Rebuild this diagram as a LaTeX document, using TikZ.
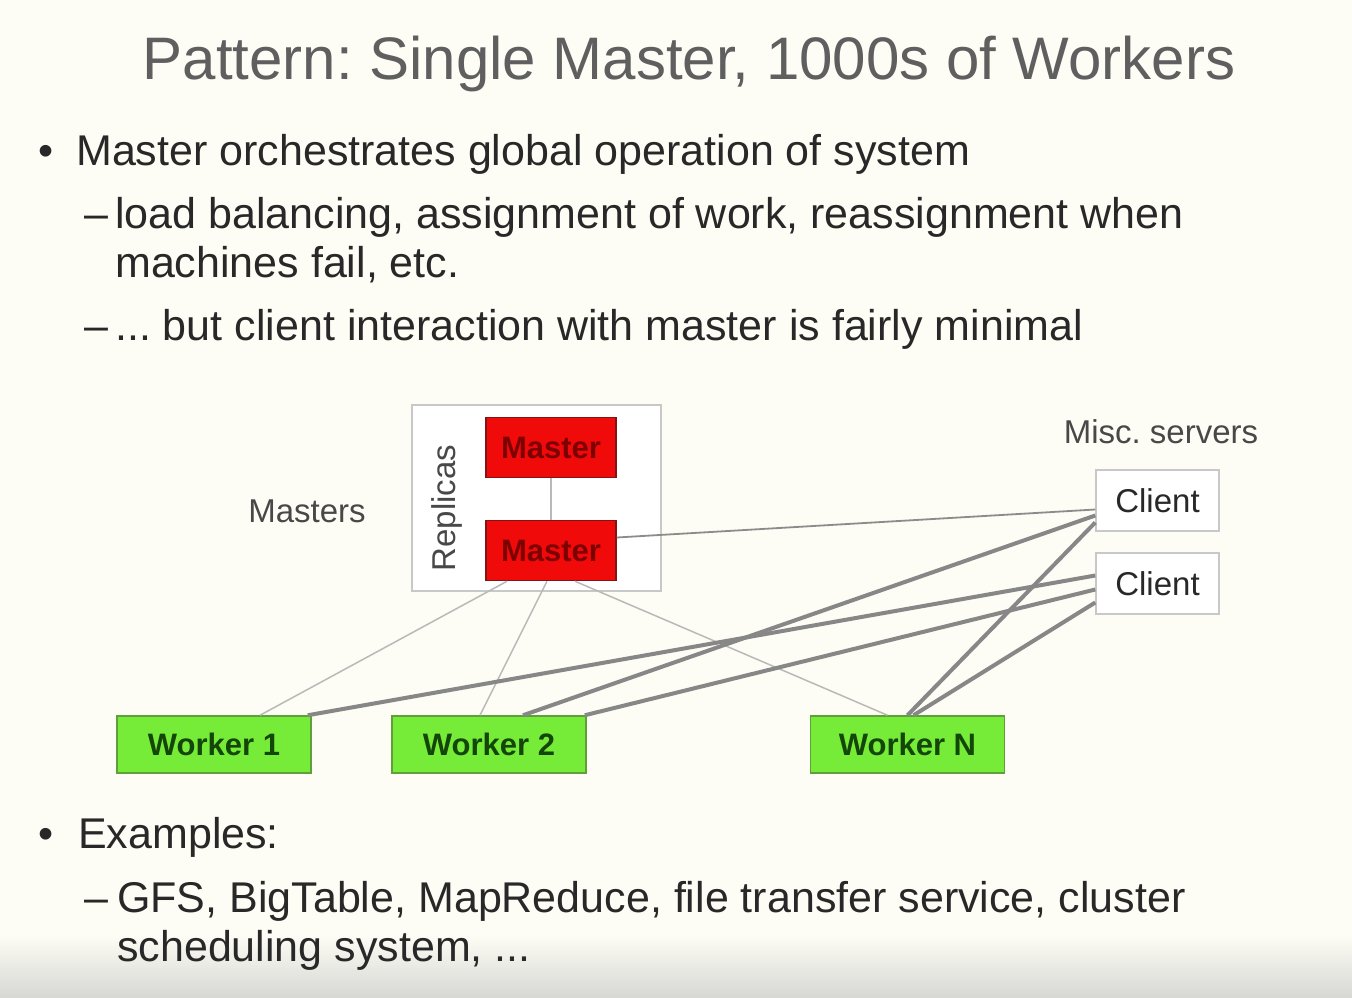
\documentclass[tikz,border=0pt]{standalone}
\usepackage{fontspec}
\setmainfont{Liberation Sans}
\usetikzlibrary{calc}
\frenchspacing
\definecolor{bg}{RGB}{253,253,245}
\definecolor{bgbot}{RGB}{215,215,212}
\definecolor{titlegray}{RGB}{95,95,95}
\definecolor{bodytext}{RGB}{40,40,40}
\definecolor{mred}{RGB}{240,10,10}
\definecolor{mredborder}{RGB}{130,20,20}
\definecolor{mredtext}{RGB}{125,0,0}
\definecolor{wgreen}{RGB}{118,236,56}
\definecolor{wgreenborder}{RGB}{95,160,60}
\definecolor{wgreentext}{RGB}{20,70,10}
\definecolor{boxborder}{RGB}{200,200,200}
\definecolor{thinline}{RGB}{185,185,185}
\definecolor{midline}{RGB}{140,140,140}
\definecolor{thickline}{RGB}{135,135,135}
\tikzset{
  bodyfont/.style={font=\fontsize{43}{50}\selectfont, text=bodytext, inner sep=0pt, anchor=base west},
  labelfont/.style={font=\fontsize{33}{38}\selectfont, text=bodytext!85, inner sep=0pt},
  masterbox/.style={draw=mredborder, line width=1.5pt, fill=mred, minimum width=130pt, minimum height=60pt, inner sep=0pt, font=\bfseries\fontsize{31}{36}\selectfont, text=mredtext},
  workerbox/.style={draw=wgreenborder, line width=1.5pt, fill=wgreen, minimum width=194pt, minimum height=57pt, inner sep=0pt, font=\bfseries\fontsize{31}{36}\selectfont, text=wgreentext},
  clientbox/.style={draw=boxborder, line width=1.5pt, fill=white, minimum width=123pt, minimum height=61pt, inner sep=0pt, font=\fontsize{33}{38}\selectfont, text=bodytext},
  thinconn/.style={draw=thinline, line width=1.5pt},
  midconn/.style={draw=midline, line width=1.8pt},
  thickconn/.style={draw=thickline, line width=4pt}
}
\begin{document}
\begin{tikzpicture}[x=1pt,y=-1pt]
\useasboundingbox (0,0) rectangle (1352,998);
\fill[bg] (0,0) rectangle (1352,998);
\shade[top color=bg, bottom color=bgbot] (0,935) rectangle (1352,998);

% title
\node[font=\fontsize{60}{66}\selectfont, text=titlegray, inner sep=0pt, anchor=base] (title) at (689,80) {Pattern: Single Master, 1000s of Workers};

% bullets
\node[bodyfont] (b1dot) at (38,165) {•};
\node[bodyfont] (b1) at (76,165) {Master orchestrates global operation of system};
\node[bodyfont] (s1dash) at (84,228) {–};
\node[bodyfont] (s1) at (115,228) {load balancing, assignment of work, reassignment when};
\node[bodyfont] (s1b) at (115,277) {machines fail, etc.};
\node[bodyfont] (s2dash) at (84,340) {–};
\node[bodyfont] (s2) at (115,340) {... but client interaction with master is fairly minimal};
\node[bodyfont] (b2dot) at (38,848) {•};
\node[bodyfont] (b2) at (78,848) {Examples:};
\node[bodyfont] (s3dash) at (84,912) {–};
\node[bodyfont] (s3) at (117,912) {GFS, BigTable, MapReduce, file transfer service, cluster};
\node[bodyfont] (s3b) at (117,961) {scheduling system, ...};

% diagram
\node[draw=boxborder, line width=1.5pt, fill=white, minimum width=249pt, minimum height=186pt, inner sep=0pt] (rep) at (536.5,498) {};
\node[labelfont, rotate=90] (replab) at (447,508) {Replicas};
\node[masterbox] (m1) at (551,447.5) {Master};
\node[masterbox] (m2) at (551,550.5) {Master};
\node[labelfont] (masters) at (307,511) {Masters};
\node[labelfont] (misc) at (1161,432) {Misc. servers};
\node[clientbox] (c1) at (1157.5,500.5) {Client};
\node[clientbox] (c2) at (1157.5,583.5) {Client};
\node[workerbox] (w1) at (214,744.5) {Worker 1};
\node[workerbox] (w2) at (489,744.5) {Worker 2};
\node[workerbox] (wn) at (907.5,744.5) {Worker N};

% connectors
\draw[thinconn] (m1.south) -- (m2.north);
\draw[thinconn] ($(m2.south)+(-44,0)$) -- ($(w1.north)+(46,0)$);
\draw[thinconn] ($(m2.south)+(-4,0)$) -- ($(w2.north)+(-9,0)$);
\draw[thinconn] ($(m2.south)+(24,0)$) -- ($(wn.north)+(-20,0)$);
\draw[midconn] ($(m2.east)+(0,-13)$) -- ($(c1.west)+(0,9)$);
\draw[thickconn] ($(w1.north east)+(-4,0)$) -- ($(c2.west)+(0,-8)$);
\draw[thickconn] ($(w2.north)+(34,0)$) -- ($(c1.west)+(0,15)$);
\draw[thickconn] ($(w2.north east)+(-2,0)$) -- ($(c2.west)+(0,6)$);
\draw[thickconn] (wn.north) -- ($(c1.west)+(0,22)$);
\draw[thickconn] ($(wn.north)+(6,0)$) -- ($(c2.west)+(0,19)$);
\end{tikzpicture}
\end{document}
